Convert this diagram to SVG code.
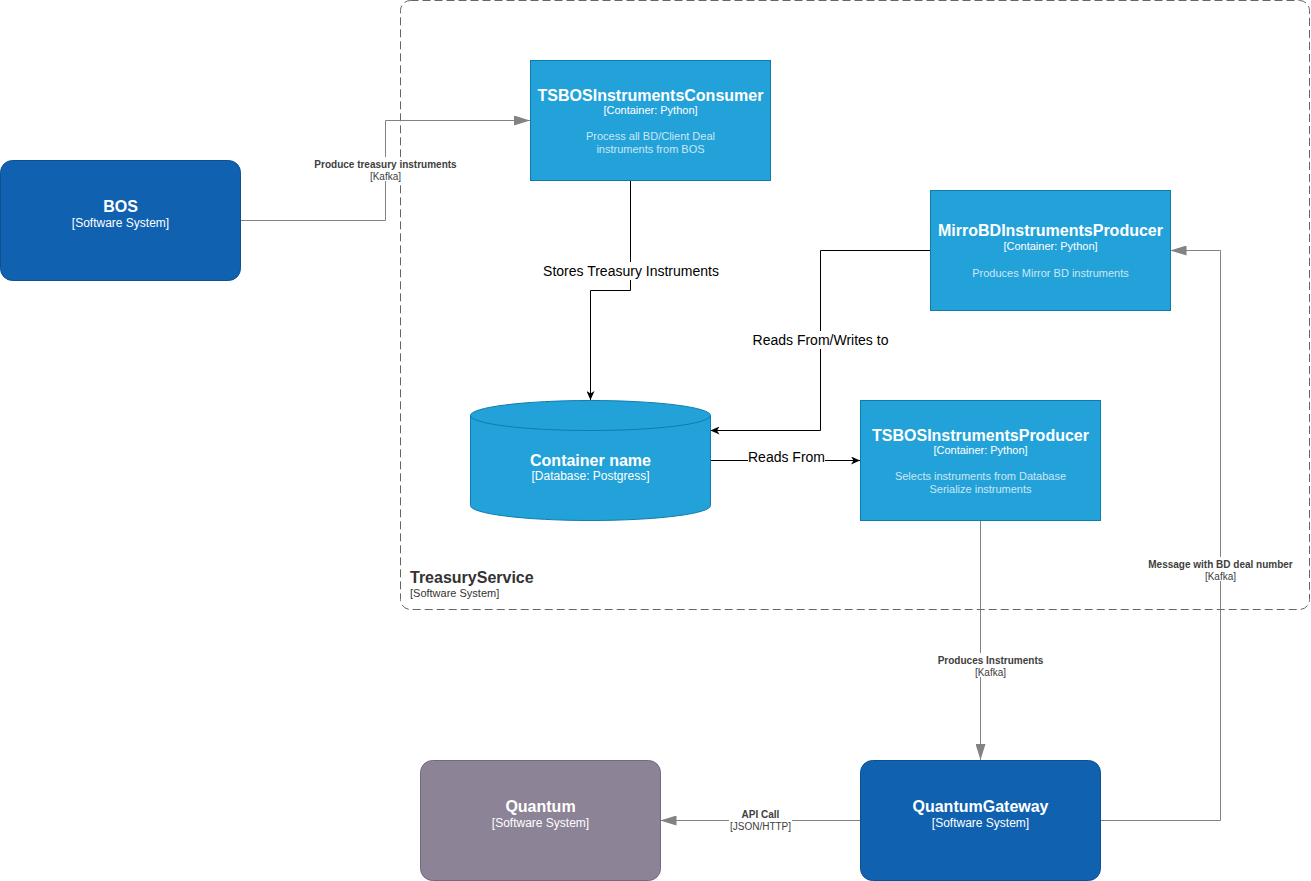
<svg xmlns="http://www.w3.org/2000/svg" width="1311" height="881" viewBox="0 0 1311 881">
<defs>
<style>
text{font-family:"Liberation Sans",Arial,sans-serif;text-anchor:middle}
.t{font-size:16px;font-weight:bold;fill:#fff}
.s{font-size:12px;fill:#fff}
.s11{font-size:11px;fill:#fff}
.d{font-size:11px;fill:#CBE7F5}
.sys{fill:#1061B0;stroke:#0D5091;stroke-width:1}
.ext{fill:#8C8496;stroke:#736782;stroke-width:1}
.cont{fill:#23A2D9;stroke:#0E7DAD;stroke-width:1}
.g{fill:none;stroke:#828282;stroke-width:1}
.k{fill:none;stroke:#000;stroke-width:1}
.lb{font-size:10px;font-weight:bold;fill:#404040}
.ls{font-size:10px;fill:#404040}
.lk{font-size:14px;fill:#000}
</style>
<marker id="ga" viewBox="0 0 16 10" refX="16" refY="5" markerWidth="16" markerHeight="10" markerUnits="userSpaceOnUse" orient="auto"><path d="M0,0 L16,5 L0,10 Z" fill="#828282"/></marker>
<marker id="ka" viewBox="0 0 9 8" refX="9" refY="4" markerWidth="9" markerHeight="8" markerUnits="userSpaceOnUse" orient="auto"><path d="M0,0 L9,4 L0,8 L2.5,4 Z" fill="#000"/></marker>
</defs>
<rect width="1311" height="881" fill="#fff"/>
<g id="boundary">
<rect x="400.5" y="0.5" width="909" height="609" rx="10" fill="none" stroke="#666" stroke-dasharray="8 4"/>
<text x="410" y="583" style="text-anchor:start;font-size:16px;font-weight:bold;fill:#333">TreasuryService</text>
<text x="410" y="597" style="text-anchor:start;font-size:11px;fill:#333">[Software System]</text>
</g>
<g id="connectors">
<path class="g" d="M240.5,220.5 H385.5 V120.5 H530" marker-end="url(#ga)"/>
<rect x="313" y="157" width="145" height="24" fill="#fff"/>
<text class="lb" x="385.5" y="168">Produce treasury instruments</text>
<text class="ls" x="385.5" y="180">[Kafka]</text>

<path class="k" d="M630.5,180 V290.5 H590.5 V400" marker-end="url(#ka)"/>
<rect x="542" y="262" width="178" height="18" fill="#fff"/>
<text class="lk" x="631" y="276">Stores Treasury Instruments</text>

<path class="k" d="M930,250.5 H820.5 V430.5 H710.5" marker-end="url(#ka)"/>
<rect x="751" y="331" width="139" height="18" fill="#fff"/>
<text class="lk" x="820.5" y="345">Reads From/Writes to</text>

<path class="k" d="M710.5,460.5 H860" marker-end="url(#ka)"/>
<rect x="748" y="448" width="77" height="18" fill="#fff"/>
<text class="lk" x="786.5" y="462">Reads From</text>

<path class="g" d="M980.5,520 V760" marker-end="url(#ga)"/>
<rect x="936" y="653" width="109" height="24" fill="#fff"/>
<text class="lb" x="990.5" y="664">Produces Instruments</text>
<text class="ls" x="990.5" y="676">[Kafka]</text>

<path class="g" d="M860,820.5 H660.5" marker-end="url(#ga)"/>
<rect x="729" y="807" width="63" height="24" fill="#fff"/>
<text class="lb" x="760.5" y="818">API Call</text>
<text class="ls" x="760.5" y="830">[JSON/HTTP]</text>

<path class="g" d="M1100.5,820.5 H1220.5 V250.5 H1170.5" marker-end="url(#ga)"/>
<rect x="1146" y="557" width="149" height="24" fill="#fff"/>
<text class="lb" x="1220.5" y="568">Message with BD deal number</text>
<text class="ls" x="1220.5" y="580">[Kafka]</text>
</g>
<g id="bos">
<rect class="sys" x="0.5" y="160.5" width="240" height="120" rx="12"/>
<text class="t" x="120.5" y="212">BOS</text>
<text class="s" x="120.5" y="227">[Software System]</text>
</g>
<g id="consumer">
<rect class="cont" x="530.5" y="60.5" width="240" height="120"/>
<text class="t" x="650.5" y="101">TSBOSInstrumentsConsumer</text>
<text class="s11" x="650.5" y="114">[Container: Python]</text>
<text class="d" x="650.5" y="140">Process all BD/Client Deal</text>
<text class="d" x="650.5" y="153">instruments from BOS</text>
</g>
<g id="mirror">
<rect class="cont" x="930.5" y="190.5" width="240" height="120"/>
<text class="t" x="1050.5" y="236">MirroBDInstrumentsProducer</text>
<text class="s11" x="1050.5" y="250">[Container: Python]</text>
<text class="d" x="1050.5" y="277">Produces Mirror BD instruments</text>
</g>
<g id="database">
<path class="cont" d="M470.5,415.5 A120,15 0 0 1 710.5,415.5 V505.5 A120,15 0 0 1 470.5,505.5 Z"/>
<path d="M470.5,415.5 A120,15 0 0 0 710.5,415.5" fill="none" stroke="#0E7DAD"/>
<text class="t" x="590.5" y="466">Container name</text>
<text class="s" x="590.5" y="480">[Database: Postgress]</text>
</g>
<g id="producer">
<rect class="cont" x="860.5" y="400.5" width="240" height="120"/>
<text class="t" x="980.5" y="441">TSBOSInstrumentsProducer</text>
<text class="s11" x="980.5" y="454">[Container: Python]</text>
<text class="d" x="980.5" y="480">Selects instruments from Database</text>
<text class="d" x="980.5" y="493">Serialize instruments</text>
</g>
<g id="quantum">
<rect class="ext" x="420.5" y="760.5" width="240" height="120" rx="12"/>
<text class="t" x="540.5" y="812">Quantum</text>
<text class="s" x="540.5" y="827">[Software System]</text>
</g>
<g id="quantumgateway">
<rect class="sys" x="860.5" y="760.5" width="240" height="120" rx="12"/>
<text class="t" x="980.5" y="812">QuantumGateway</text>
<text class="s" x="980.5" y="827">[Software System]</text>
</g>
</svg>
